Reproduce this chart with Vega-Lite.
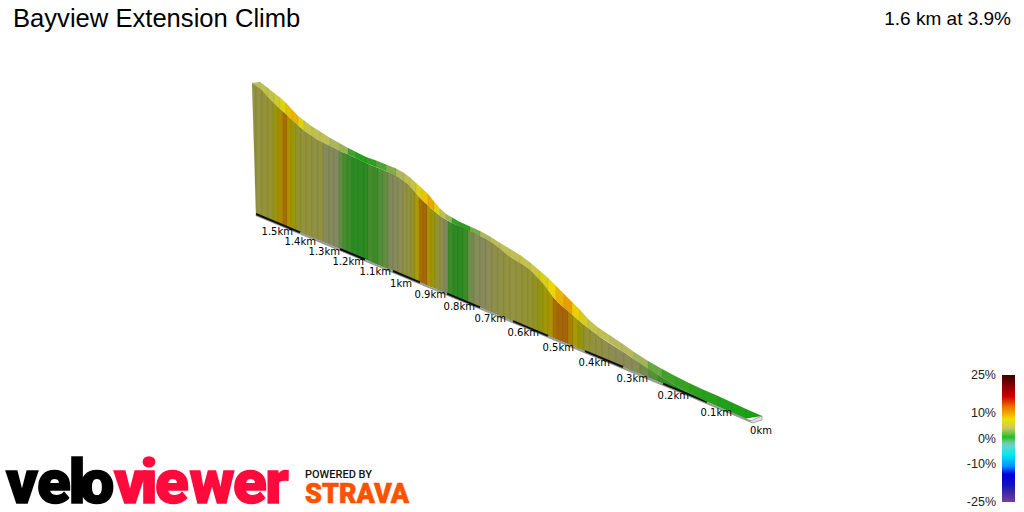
{
  "$schema": "https://vega.github.io/schema/vega-lite/v6.json",
  "width": 1024,
  "height": 512,
  "padding": 0,
  "autosize": {"type": "none"},
  "background": "white",
  "config": {"view": {"stroke": null}},
  "datasets": {
    "wall": [
      {"s":0,"g":4.5,"x":[252,256],"t":[83,85.5],"b":[83,214]},
      {"s":1,"g":4.5,"x":[256,262],"t":[85.5,90],"b":[214,216.5]},
      {"s":2,"g":4.8,"x":[262,268],"t":[90,97],"b":[216.5,219]},
      {"s":3,"g":5,"x":[268,273],"t":[97,102],"b":[219,221]},
      {"s":4,"g":6.5,"x":[273,278],"t":[102,107],"b":[221,223]},
      {"s":5,"g":9,"x":[278,283],"t":[107,111.5],"b":[223,225]},
      {"s":6,"g":10.5,"x":[283,287],"t":[111.5,115],"b":[225,227]},
      {"s":7,"g":8.5,"x":[287,291],"t":[115,119],"b":[227,228.5]},
      {"s":8,"g":6.5,"x":[291,296],"t":[119,123.5],"b":[228.5,230.5]},
      {"s":9,"g":5.2,"x":[296,301],"t":[123.5,128],"b":[230.5,233]},
      {"s":10,"g":4.5,"x":[301,306],"t":[128,132],"b":[233,235]},
      {"s":11,"g":4.8,"x":[306,312],"t":[132,136],"b":[235,237.5]},
      {"s":12,"g":4.2,"x":[312,318],"t":[136,140],"b":[237.5,240]},
      {"s":13,"g":4.5,"x":[318,323],"t":[140,142.5],"b":[240,242]},
      {"s":14,"g":3,"x":[323,329],"t":[142.5,145.5],"b":[242,244.5]},
      {"s":15,"g":2.8,"x":[329,334],"t":[145.5,148],"b":[244.5,246.5]},
      {"s":16,"g":2.5,"x":[334,339],"t":[148,150.5],"b":[246.5,248.5]},
      {"s":17,"g":1.6,"x":[339,343],"t":[150.5,152.5],"b":[248.5,250.5]},
      {"s":18,"g":1.2,"x":[343,347],"t":[152.5,154],"b":[250.5,252]},
      {"s":19,"g":1,"x":[347,352],"t":[154,156.5],"b":[252,254]},
      {"s":20,"g":0.5,"x":[352,358],"t":[156.5,159],"b":[254,256.5]},
      {"s":21,"g":0.5,"x":[358,364],"t":[159,162],"b":[256.5,259]},
      {"s":22,"g":0.6,"x":[364,368],"t":[162,164],"b":[259,260.5]},
      {"s":23,"g":1.2,"x":[368,373],"t":[164,166],"b":[260.5,263]},
      {"s":24,"g":1,"x":[373,378],"t":[166,168],"b":[263,265]},
      {"s":25,"g":1.4,"x":[378,383],"t":[168,170],"b":[265,267]},
      {"s":26,"g":1.7,"x":[383,388],"t":[170,172],"b":[267,269]},
      {"s":27,"g":2.4,"x":[388,393],"t":[172,174],"b":[269,271]},
      {"s":28,"g":3,"x":[393,398],"t":[174,177],"b":[271,273]},
      {"s":29,"g":3.6,"x":[398,403],"t":[177,180.5],"b":[273,275.5]},
      {"s":30,"g":4.2,"x":[403,407],"t":[180.5,183],"b":[275.5,277]},
      {"s":31,"g":4.5,"x":[407,411],"t":[183,187.5],"b":[277,278.5]},
      {"s":32,"g":5.5,"x":[411,415],"t":[187.5,192],"b":[278.5,280.5]},
      {"s":33,"g":8,"x":[415,419],"t":[192,197],"b":[280.5,282]},
      {"s":34,"g":10.5,"x":[419,423],"t":[197,201],"b":[282,283.5]},
      {"s":35,"g":11,"x":[423,427],"t":[201,204.5],"b":[283.5,285.5]},
      {"s":36,"g":8.5,"x":[427,431],"t":[204.5,208.5],"b":[285.5,287]},
      {"s":37,"g":6.5,"x":[431,435],"t":[208.5,212],"b":[287,288.5]},
      {"s":38,"g":5,"x":[435,440],"t":[212,216],"b":[288.5,291]},
      {"s":39,"g":3.8,"x":[440,444],"t":[216,218.5],"b":[291,292.5]},
      {"s":40,"g":2.4,"x":[444,448],"t":[218.5,221],"b":[292.5,294]},
      {"s":41,"g":1,"x":[448,453],"t":[221,223.5],"b":[294,296]},
      {"s":42,"g":0.7,"x":[453,458],"t":[223.5,225.5],"b":[296,298]},
      {"s":43,"g":0.7,"x":[458,463],"t":[225.5,227.5],"b":[298,300.5]},
      {"s":44,"g":1,"x":[463,468],"t":[227.5,230],"b":[300.5,302.5]},
      {"s":45,"g":2,"x":[468,474],"t":[230,232.5],"b":[302.5,305]},
      {"s":46,"g":3,"x":[474,480],"t":[232.5,236],"b":[305,307.5]},
      {"s":47,"g":2.8,"x":[480,486],"t":[236,239],"b":[307.5,310]},
      {"s":48,"g":3.6,"x":[486,492],"t":[239,242.5],"b":[310,312.5]},
      {"s":49,"g":4,"x":[492,498],"t":[242.5,247],"b":[312.5,315]},
      {"s":50,"g":4.2,"x":[498,504],"t":[247,252],"b":[315,317.5]},
      {"s":51,"g":4.5,"x":[504,510],"t":[252,257],"b":[317.5,320]},
      {"s":52,"g":4.5,"x":[510,516],"t":[257,260.5],"b":[320,322.5]},
      {"s":53,"g":4.6,"x":[516,522],"t":[260.5,264],"b":[322.5,325]},
      {"s":54,"g":4.8,"x":[522,528],"t":[264,268],"b":[325,327.5]},
      {"s":55,"g":5,"x":[528,533],"t":[268,272.5],"b":[327.5,329.5]},
      {"s":56,"g":5.6,"x":[533,538],"t":[272.5,278],"b":[329.5,331.5]},
      {"s":57,"g":6,"x":[538,543],"t":[278,283],"b":[331.5,333.5]},
      {"s":58,"g":7,"x":[543,548],"t":[283,290],"b":[333.5,336]},
      {"s":59,"g":8.5,"x":[548,553],"t":[290,297],"b":[336,338]},
      {"s":60,"g":10.5,"x":[553,558],"t":[297,302.5],"b":[338,340]},
      {"s":61,"g":11,"x":[558,563],"t":[302.5,307],"b":[340,342]},
      {"s":62,"g":11,"x":[563,568],"t":[307,311],"b":[342,344]},
      {"s":63,"g":9.5,"x":[568,573],"t":[311,315.5],"b":[344,346]},
      {"s":64,"g":7.5,"x":[573,578],"t":[315.5,320],"b":[346,348.5]},
      {"s":65,"g":6,"x":[578,584],"t":[320,325],"b":[348.5,351]},
      {"s":66,"g":5,"x":[584,590],"t":[325,329.5],"b":[351,353.5]},
      {"s":67,"g":4.6,"x":[590,596],"t":[329.5,334],"b":[353.5,356]},
      {"s":68,"g":4.4,"x":[596,602],"t":[334,338.5],"b":[356,358.5]},
      {"s":69,"g":4,"x":[602,609],"t":[338.5,343],"b":[358.5,361]},
      {"s":70,"g":3.6,"x":[609,616],"t":[343,347.5],"b":[361,364]},
      {"s":71,"g":3.4,"x":[616,624],"t":[347.5,352.5],"b":[364,367.5]},
      {"s":72,"g":3.4,"x":[624,632],"t":[352.5,358],"b":[367.5,371]},
      {"s":73,"g":3,"x":[632,640],"t":[358,363],"b":[371,374]},
      {"s":74,"g":2,"x":[640,649],"t":[363,369],"b":[374,378]},
      {"s":75,"g":1.5,"x":[649,658],"t":[369,375],"b":[378,381.5]},
      {"s":76,"g":1,"x":[658,667],"t":[375,380.5],"b":[381.5,385.5]},
      {"s":77,"g":1,"x":[667,676],"t":[380.5,386],"b":[385.5,389]},
      {"s":78,"g":0.8,"x":[676,686],"t":[386,391.5],"b":[389,393.5]},
      {"s":79,"g":0.8,"x":[686,696],"t":[391.5,396.5],"b":[393.5,397.5]},
      {"s":80,"g":0.6,"x":[696,707],"t":[396.5,402],"b":[397.5,402]}
    ],
    "ribbon": [
      {"s":0,"g":4.5,"x":[252,260],"u":[83,82],"l":[83,88.5]},
      {"s":1,"g":4.5,"x":[260,268],"u":[82,88],"l":[88.5,97]},
      {"s":2,"g":4.8,"x":[268,274],"u":[88,93],"l":[97,103]},
      {"s":3,"g":5.5,"x":[274,280],"u":[93,97.5],"l":[103,109]},
      {"s":4,"g":7,"x":[280,286],"u":[97.5,103],"l":[109,114]},
      {"s":5,"g":9.5,"x":[286,292],"u":[103,109.5],"l":[114,120]},
      {"s":6,"g":10,"x":[292,298],"u":[109.5,116],"l":[120,125]},
      {"s":7,"g":7,"x":[298,304],"u":[116,120.5],"l":[125,131]},
      {"s":8,"g":5,"x":[304,312],"u":[120.5,126.5],"l":[131,136]},
      {"s":9,"g":4.5,"x":[312,320],"u":[126.5,131.5],"l":[136,141]},
      {"s":10,"g":4.2,"x":[320,330],"u":[131.5,138],"l":[141,146]},
      {"s":11,"g":3,"x":[330,340],"u":[138,143.5],"l":[146,151]},
      {"s":12,"g":2.4,"x":[340,348],"u":[143.5,148],"l":[151,154.5]},
      {"s":13,"g":1,"x":[348,356],"u":[148,152],"l":[154.5,158]},
      {"s":14,"g":0.5,"x":[356,366],"u":[152,157],"l":[158,163]},
      {"s":15,"g":0.8,"x":[366,376],"u":[157,160.5],"l":[163,167]},
      {"s":16,"g":1.2,"x":[376,386],"u":[160.5,164.5],"l":[167,171]},
      {"s":17,"g":2,"x":[386,396],"u":[164.5,168.5],"l":[171,176]},
      {"s":18,"g":3.3,"x":[396,404],"u":[168.5,173],"l":[176,181]},
      {"s":19,"g":4.2,"x":[404,410],"u":[173,177.5],"l":[181,186.5]},
      {"s":20,"g":4.8,"x":[410,416],"u":[177.5,183],"l":[186.5,193]},
      {"s":21,"g":6.5,"x":[416,422],"u":[183,188.5],"l":[193,200]},
      {"s":22,"g":9,"x":[422,428],"u":[188.5,194],"l":[200,205.5]},
      {"s":23,"g":10.5,"x":[428,434],"u":[194,201.5],"l":[205.5,211]},
      {"s":24,"g":7,"x":[434,440],"u":[201.5,208.5],"l":[211,216]},
      {"s":25,"g":4.5,"x":[440,446],"u":[208.5,214],"l":[216,219.5]},
      {"s":26,"g":2.5,"x":[446,452],"u":[214,217.5],"l":[219.5,223]},
      {"s":27,"g":0.9,"x":[452,460],"u":[217.5,222],"l":[223,226.5]},
      {"s":28,"g":0.8,"x":[460,470],"u":[222,226.5],"l":[226.5,231]},
      {"s":29,"g":1.8,"x":[470,480],"u":[226.5,231],"l":[231,236]},
      {"s":30,"g":3,"x":[480,490],"u":[231,236.5],"l":[236,241.5]},
      {"s":31,"g":3.8,"x":[490,500],"u":[236.5,243],"l":[241.5,249]},
      {"s":32,"g":4.3,"x":[500,510],"u":[243,249],"l":[249,257]},
      {"s":33,"g":4.5,"x":[510,520],"u":[249,255],"l":[257,263]},
      {"s":34,"g":4.6,"x":[520,530],"u":[255,262.5],"l":[263,270]},
      {"s":35,"g":5.2,"x":[530,540],"u":[262.5,271],"l":[270,280]},
      {"s":36,"g":6.5,"x":[540,548],"u":[271,278],"l":[280,290]},
      {"s":37,"g":8,"x":[548,556],"u":[278,286],"l":[290,300.5]},
      {"s":38,"g":10,"x":[556,564],"u":[286,294],"l":[300.5,308]},
      {"s":39,"g":11,"x":[564,572],"u":[294,302],"l":[308,314.5]},
      {"s":40,"g":8.5,"x":[572,580],"u":[302,310],"l":[314.5,321.5]},
      {"s":41,"g":6,"x":[580,588],"u":[310,319],"l":[321.5,328]},
      {"s":42,"g":4.8,"x":[588,598],"u":[319,327.5],"l":[328,335.5]},
      {"s":43,"g":4.2,"x":[598,610],"u":[327.5,335.5],"l":[335.5,343]},
      {"s":44,"g":3.6,"x":[610,622],"u":[335.5,343.5],"l":[343,351]},
      {"s":45,"g":3.4,"x":[622,634],"u":[343.5,352],"l":[351,359]},
      {"s":46,"g":2.6,"x":[634,648],"u":[352,361],"l":[359,369]},
      {"s":47,"g":1.6,"x":[648,662],"u":[361,369],"l":[369,377.5]},
      {"s":48,"g":1,"x":[662,676],"u":[369,376.5],"l":[377.5,386]},
      {"s":49,"g":0.9,"x":[676,690],"u":[376.5,383.5],"l":[386,393.5]},
      {"s":50,"g":0.7,"x":[690,704],"u":[383.5,390],"l":[393.5,400.5]},
      {"s":51,"g":0.5,"x":[704,718],"u":[390,396],"l":[400.5,406.5]},
      {"s":52,"g":0.3,"x":[718,732],"u":[396,402.5],"l":[406.5,412.5]},
      {"s":53,"g":0.2,"x":[732,746],"u":[402.5,409],"l":[412.5,418.5]},
      {"s":54,"g":0.1,"x":[746,762],"u":[409,416],"l":[418.5,416]}
    ]
  },
  "layer": [
    {
      "data": {"name": "wall"},
      "transform": [{"flatten": ["x", "t", "b"]}],
      "mark": {"type": "area", "stroke": "#000000", "strokeWidth": 0.3, "strokeOpacity": 0.18, "interpolate": "linear"},
      "encoding": {
        "x": {"field": "x", "type": "quantitative", "axis": null, "scale": {"domain": [0, 1024]}},
        "y": {"field": "t", "type": "quantitative", "axis": null, "scale": {"domain": [512, 0]}},
        "y2": {"field": "b"},
        "detail": {"field": "s"},
        "color": {
          "field": "g", "type": "quantitative", "legend": null,
          "scale": {
            "domain": [0, 0.8, 1.5, 2.5, 3.5, 4.5, 6, 8, 11],
            "range": ["#268a1e", "#2e8a22", "#55903a", "#83895f", "#8c8c55", "#92923f", "#949410", "#aa9c00", "#a5650a"]
          }
        }
      }
    },
    {
      "data": {"values": [{"x": 256, "x2": 752, "y": 215, "y2": 422}]},
      "mark": {"type": "rule", "color": "#999999", "strokeWidth": 2},
      "encoding": {
        "x": {"field": "x", "type": "quantitative", "axis": null, "scale": {"domain": [0, 1024]}},
        "x2": {"field": "x2"},
        "y": {"field": "y", "type": "quantitative", "axis": null, "scale": {"domain": [512, 0]}},
        "y2": {"field": "y2"}
      }
    },
    {
      "data": {"values": [
        {"x": 256, "x2": 300, "y": 214, "y2": 232.3},
        {"x": 340, "x2": 365, "y": 249, "y2": 259.5},
        {"x": 393, "x2": 420, "y": 271, "y2": 282.4},
        {"x": 447, "x2": 480, "y": 293.6, "y2": 307.4},
        {"x": 513, "x2": 548, "y": 321.2, "y2": 335.8},
        {"x": 585, "x2": 623, "y": 351.2, "y2": 367},
        {"x": 663, "x2": 707, "y": 383.7, "y2": 402}
      ]},
      "mark": {"type": "rule", "color": "#111111", "strokeWidth": 2},
      "encoding": {
        "x": {"field": "x", "type": "quantitative", "axis": null, "scale": {"domain": [0, 1024]}},
        "x2": {"field": "x2"},
        "y": {"field": "y", "type": "quantitative", "axis": null, "scale": {"domain": [512, 0]}},
        "y2": {"field": "y2"}
      }
    },
    {
      "data": {"values": [
        {"x": 750, "u": 420, "l": 421},
        {"x": 752, "u": 420.5, "l": 423},
        {"x": 762, "u": 416, "l": 420}
      ]},
      "mark": {"type": "area", "color": "#e4e4e4", "stroke": "#888888", "strokeWidth": 0.7},
      "encoding": {
        "x": {"field": "x", "type": "quantitative", "axis": null, "scale": {"domain": [0, 1024]}},
        "y": {"field": "u", "type": "quantitative", "axis": null, "scale": {"domain": [512, 0]}},
        "y2": {"field": "l"}
      }
    },
    {
      "data": {"name": "ribbon"},
      "transform": [{"flatten": ["x", "u", "l"]}],
      "mark": {"type": "area", "stroke": "#000000", "strokeWidth": 0.3, "strokeOpacity": 0.15},
      "encoding": {
        "x": {"field": "x", "type": "quantitative", "axis": null, "scale": {"domain": [0, 1024]}},
        "y": {"field": "u", "type": "quantitative", "axis": null, "scale": {"domain": [512, 0]}},
        "y2": {"field": "l"},
        "detail": {"field": "s"},
        "color": {
          "field": "g", "type": "quantitative", "legend": null,
          "scale": {
            "domain": [0, 0.8, 1.5, 2.5, 3.5, 4.5, 6, 8, 11],
            "range": ["#14a014", "#2ea01e", "#60a840", "#a0b45a", "#b8b85c", "#c0c050", "#d4cc20", "#e8d800", "#e8a000"]
          }
        }
      }
    },
    {
      "data": {"values": [
        {"label": "1.5km", "x": 293, "y": 232},
        {"label": "1.4km", "x": 316, "y": 241.5},
        {"label": "1.3km", "x": 340, "y": 251.5},
        {"label": "1.2km", "x": 364, "y": 262},
        {"label": "1.1km", "x": 391, "y": 271.5},
        {"label": "1km", "x": 412, "y": 284},
        {"label": "0.9km", "x": 446, "y": 295},
        {"label": "0.8km", "x": 475, "y": 307},
        {"label": "0.7km", "x": 506, "y": 319},
        {"label": "0.6km", "x": 539, "y": 333},
        {"label": "0.5km", "x": 574, "y": 347.5},
        {"label": "0.4km", "x": 610, "y": 362.5},
        {"label": "0.3km", "x": 648, "y": 378.5},
        {"label": "0.2km", "x": 689, "y": 396},
        {"label": "0.1km", "x": 732, "y": 413},
        {"label": "0km", "x": 772, "y": 431}
      ]},
      "mark": {"type": "text", "align": "right", "baseline": "middle", "font": "DejaVu Sans", "fontSize": 10, "color": "#000000"},
      "encoding": {
        "x": {"field": "x", "type": "quantitative", "axis": null, "scale": {"domain": [0, 1024]}},
        "y": {"field": "y", "type": "quantitative", "axis": null, "scale": {"domain": [512, 0]}},
        "text": {"field": "label"}
      }
    },
    {
      "data": {"values": [{"label": "Bayview Extension Climb", "x": 13, "y": 19}]},
      "mark": {"type": "text", "align": "left", "baseline": "middle", "font": "Liberation Sans", "fontSize": 25.6, "color": "#000000"},
      "encoding": {
        "x": {"field": "x", "type": "quantitative", "axis": null, "scale": {"domain": [0, 1024]}},
        "y": {"field": "y", "type": "quantitative", "axis": null, "scale": {"domain": [512, 0]}},
        "text": {"field": "label"}
      }
    },
    {
      "data": {"values": [{"label": "1.6 km at 3.9%", "x": 1011, "y": 19}]},
      "mark": {"type": "text", "align": "right", "baseline": "middle", "font": "Liberation Sans", "fontSize": 19, "color": "#000000"},
      "encoding": {
        "x": {"field": "x", "type": "quantitative", "axis": null, "scale": {"domain": [0, 1024]}},
        "y": {"field": "y", "type": "quantitative", "axis": null, "scale": {"domain": [512, 0]}},
        "text": {"field": "label"}
      }
    },
    {
      "data": {"values": [{"x": 1002, "x2": 1015, "p": -25, "p2": 25}]},
      "mark": {
        "type": "rect",
        "fill": {
          "gradient": "linear", "x1": 0, "y1": 0, "x2": 0, "y2": 1,
          "stops": [
            {"offset": 0, "color": "#3c0000"},
            {"offset": 0.17, "color": "#d00000"},
            {"offset": 0.25, "color": "#f07000"},
            {"offset": 0.35, "color": "#f0e000"},
            {"offset": 0.42, "color": "#c8c860"},
            {"offset": 0.49, "color": "#20c020"},
            {"offset": 0.53, "color": "#70c8a0"},
            {"offset": 0.56, "color": "#60d8d0"},
            {"offset": 0.63, "color": "#00e8f0"},
            {"offset": 0.72, "color": "#0090ff"},
            {"offset": 0.78, "color": "#0000e0"},
            {"offset": 0.86, "color": "#1010c0"},
            {"offset": 0.95, "color": "#5030a0"},
            {"offset": 1, "color": "#7b3a9c"}
          ]
        }
      },
      "encoding": {
        "x": {"field": "x", "type": "quantitative", "axis": null, "scale": {"domain": [0, 1024]}},
        "x2": {"field": "x2"},
        "y": {"field": "p", "type": "quantitative", "axis": null, "scale": {"domain": [-25, 25], "range": [502, 375]}},
        "y2": {"field": "p2"}
      }
    },
    {
      "data": {"values": [
        {"p": 25, "label": "25%", "x": 996},
        {"p": 10, "label": "10%", "x": 996},
        {"p": 0, "label": "0%", "x": 996},
        {"p": -10, "label": "-10%", "x": 996},
        {"p": -25, "label": "-25%", "x": 996}
      ]},
      "mark": {"type": "text", "align": "right", "baseline": "middle", "font": "Liberation Sans", "fontSize": 12.5, "color": "#222222"},
      "encoding": {
        "x": {"field": "x", "type": "quantitative", "axis": null, "scale": {"domain": [0, 1024]}},
        "y": {"field": "p", "type": "quantitative", "axis": null, "scale": {"domain": [-25, 25], "range": [502, 375]}},
        "text": {"field": "label"}
      }
    },
    {
      "data": {"values": [
        {"ch": "v", "x": 22, "y": 503, "c": "black"},
        {"ch": "e", "x": 54, "y": 503, "c": "black"},
        {"ch": "l", "x": 77, "y": 503, "c": "black"},
        {"ch": "o", "x": 97, "y": 503, "c": "black"},
        {"ch": "v", "x": 130, "y": 503, "c": "red"},
        {"ch": "i", "x": 149, "y": 503, "c": "red"},
        {"ch": "e", "x": 172, "y": 503, "c": "red"},
        {"ch": "w", "x": 212, "y": 503, "c": "red"},
        {"ch": "e", "x": 250, "y": 503, "c": "red"},
        {"ch": "r", "x": 277, "y": 503, "c": "red"}
      ]},
      "mark": {"type": "text", "align": "center", "baseline": "alphabetic", "font": "Roboto", "fontWeight": 900, "fontSize": 62, "strokeWidth": 1.4},
      "encoding": {
        "x": {"field": "x", "type": "quantitative", "axis": null, "scale": {"domain": [0, 1024]}},
        "y": {"field": "y", "type": "quantitative", "axis": null, "scale": {"domain": [512, 0]}},
        "text": {"field": "ch"},
        "color": {"field": "c", "type": "nominal", "legend": null, "scale": {"domain": ["black", "red"], "range": ["#000000", "#ff0a3c"]}},
        "stroke": {"field": "c", "type": "nominal", "legend": null, "scale": {"domain": ["black", "red"], "range": ["#000000", "#ff0a3c"]}}
      }
    },
    {
      "data": {"values": [{"label": "POWERED BY", "x": 305, "y": 478}]},
      "mark": {"type": "text", "align": "left", "baseline": "alphabetic", "font": "Roboto", "fontWeight": 500, "fontSize": 11, "color": "#111111"},
      "encoding": {
        "x": {"field": "x", "type": "quantitative", "axis": null, "scale": {"domain": [0, 1024]}},
        "y": {"field": "y", "type": "quantitative", "axis": null, "scale": {"domain": [512, 0]}},
        "text": {"field": "label"}
      }
    },
    {
      "data": {"values": [{"label": "STRAVA", "x": 305, "y": 503}]},
      "mark": {"type": "text", "align": "left", "baseline": "alphabetic", "font": "Roboto", "fontWeight": 900, "fontSize": 27, "color": "#fc5200", "stroke": "#fc5200", "strokeWidth": 0.6},
      "encoding": {
        "x": {"field": "x", "type": "quantitative", "axis": null, "scale": {"domain": [0, 1024]}},
        "y": {"field": "y", "type": "quantitative", "axis": null, "scale": {"domain": [512, 0]}},
        "text": {"field": "label"}
      }
    }
  ],
  "resolve": {"scale": {"y": "independent", "color": "independent", "stroke": "independent"}}
}
